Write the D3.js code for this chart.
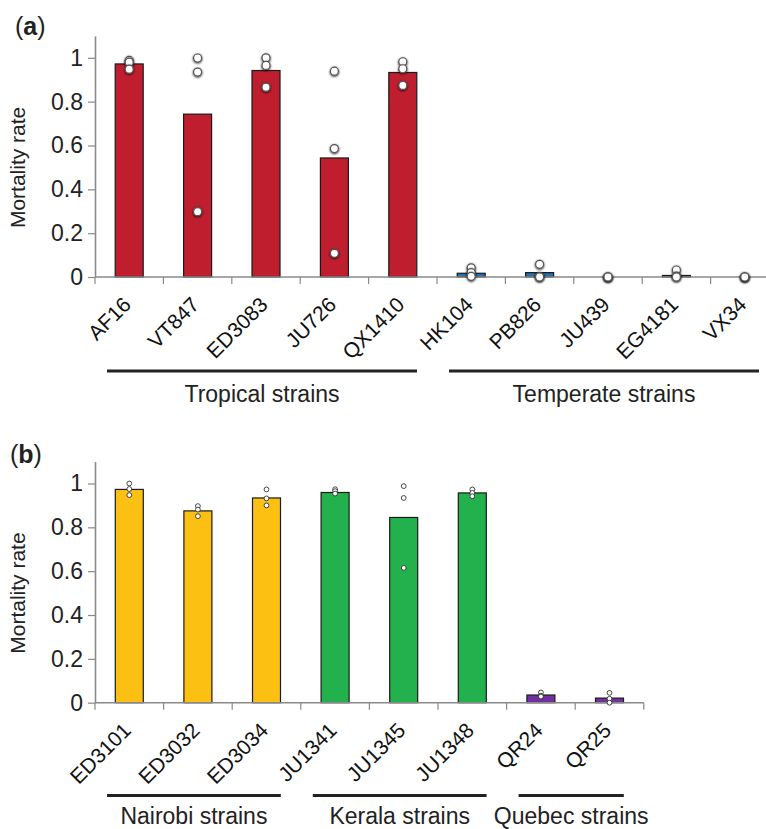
<!DOCTYPE html>
<html>
<head>
<meta charset="utf-8">
<script src="https://cdn.jsdelivr.net/npm/d3@7"></script>
<style>
  body { margin: 0; background: #fff; }
  svg { display: block; font-family: 'Liberation Sans', Arial, Helvetica, sans-serif; }
</style>
</head>
<body>
<script>
// Panel (a): tropical vs temperate strains
var strainsA = ['AF16', 'VT847', 'ED3083', 'JU726', 'QX1410', 'HK104', 'PB826', 'JU439', 'EG4181', 'VX34'];
var meansA = [0.972, 0.743, 0.942, 0.543, 0.933, 0.017, 0.020, 0, 0.007, 0];
var pointsA = [
  [0.988, 0.98, 0.948], [0.999, 0.935, 0.298], [1.0, 0.965, 0.866], [0.939, 0.586, 0.108],
  [0.982, 0.95, 0.874], [0.042, 0.02, 0.003], [0.058, 0.002, 0], [0, 0, 0], [0.032, 0.004, 0], [0, 0, 0]
];
var barGroupA = [0, 0, 0, 0, 0, 1, 1, 1, 1, 1];
var groupNamesA = ['Tropical strains', 'Temperate strains'];
var groupSpansA = [[0, 4], [5, 9]];
var groupColorsA = ['#BE1E2D', '#2470B3'];

// Panel (b): Nairobi, Kerala, Quebec strains
var strainsB = ['ED3101', 'ED3032', 'ED3034', 'JU1341', 'JU1345', 'JU1348', 'QR24', 'QR25'];
var meansB = [0.973, 0.875, 0.934, 0.959, 0.845, 0.957, 0.035, 0.021];
var pointsB = [
  [1.0, 0.975, 0.947], [0.897, 0.881, 0.851], [0.973, 0.932, 0.9], [0.974, 0.965, 0.954],
  [0.988, 0.934, 0.615], [0.973, 0.957, 0.942], [0.047, 0.032, 0.028], [0.045, 0.018, 0]
];
var barGroupB = [0, 0, 0, 1, 1, 1, 2, 2];
var groupNamesB = ['Nairobi strains', 'Kerala strains', 'Quebec strains'];
var groupSpansB = [[0, 2], [3, 5], [6, 7]];
var groupColorsB = ['#FBC012', '#22B14C', '#7030A0'];

var yTicks = [0, 0.2, 0.4, 0.6, 0.8, 1];

var width = 766;
var height = 829;

var svg = d3.select('body').append('svg')
  .attr('width', width)
  .attr('height', height);

// soft dark halo behind the points of panel (a)
var defs = svg.append('defs');
var shadow = defs.append('filter').attr('id', 'halo')
  .attr('x', '-100%').attr('y', '-100%').attr('width', '300%').attr('height', '300%');
shadow.append('feDropShadow')
  .attr('dx', 0).attr('dy', 0.8)
  .attr('stdDeviation', 1.2)
  .attr('flood-color', '#000')
  .attr('flood-opacity', 0.9);

function drawPanel(cfg) {
  var g = svg.append('g');

  var x = d3.scaleBand()
    .domain(cfg.strains)
    .range([95, 95 + cfg.step * cfg.strains.length]);

  var y = d3.scaleLinear()
    .domain([0, 1.1])
    .range([cfg.zero, cfg.zero - 1.1 * 219.2]);

  var bw = x.bandwidth();
  var barW = 28;

  // panel letter
  g.append('text')
    .attr('x', cfg.letterX)
    .attr('y', cfg.letterY)
    .attr('font-size', 25)
    .attr('fill', '#222')
    .html('(<tspan font-weight="bold">' + cfg.letter + '</tspan>)');

  // y axis
  var yAxis = g.append('g')
    .attr('transform', 'translate(95,0)')
    .call(d3.axisLeft(y).tickValues(yTicks).tickFormat(d3.format('~g')).tickSize(7).tickSizeOuter(0).tickPadding(5));
  yAxis.select('.domain').attr('stroke', '#8a8a8a').attr('stroke-width', 1.6);
  yAxis.selectAll('.tick line').attr('stroke', '#8a8a8a').attr('stroke-width', 1.2);
  yAxis.selectAll('.tick text')
    .attr('font-size', 23)
    .attr('fill', '#222')
    .attr('font-family', null);

  g.append('text')
    .attr('transform', 'translate(25,' + y(0.5) + ') rotate(-90)')
    .attr('text-anchor', 'middle')
    .attr('font-size', 21)
    .attr('fill', '#222')
    .text('Mortality rate');

  // bars
  var rows = cfg.strains.map(function (s, i) {
    return { name: s, mean: cfg.means[i], pts: cfg.points[i], color: cfg.colors[cfg.barGroup[i]] };
  });

  g.selectAll('.bar')
    .data(rows.filter(function (d) { return d.mean > 0; }))
    .enter().append('rect')
    .attr('class', 'bar')
    .attr('x', function (d) { return x(d.name) + (bw - barW) / 2; })
    .attr('width', barW)
    .attr('y', function (d) { return y(d.mean); })
    .attr('height', function (d) { return y(0) - y(d.mean); })
    .attr('fill', function (d) { return d.color; })
    .attr('stroke', '#1a1a1a')
    .attr('stroke-width', 1.2);

  // x axis line with ticks at the band boundaries
  var xr = x.range();
  g.append('line')
    .attr('x1', xr[0]).attr('x2', xr[1])
    .attr('y1', y(0)).attr('y2', y(0))
    .attr('stroke', '#8a8a8a')
    .attr('stroke-width', 1.6);

  var edges = cfg.strains.map(function (s) { return x(s); }).concat([xr[1]]);
  g.selectAll('.xtick')
    .data(edges)
    .enter().append('line')
    .attr('class', 'xtick')
    .attr('x1', function (d) { return d; }).attr('x2', function (d) { return d; })
    .attr('y1', y(0)).attr('y2', y(0) + 7)
    .attr('stroke', '#8a8a8a')
    .attr('stroke-width', 1.2);

  // points
  rows.forEach(function (d) {
    g.selectAll(null)
      .data(d.pts)
      .enter().append('circle')
      .attr('cx', x(d.name) + bw / 2)
      .attr('cy', function (v) { return y(v); })
      .attr('r', cfg.pointR)
      .attr('fill', '#fff')
      .attr('stroke', cfg.pointStroke)
      .attr('stroke-width', cfg.pointSW)
      .attr('filter', cfg.halo ? 'url(#halo)' : null);
  });

  // rotated strain names
  g.selectAll('.xlabel')
    .data(cfg.strains)
    .enter().append('text')
    .attr('class', 'xlabel')
    .attr('transform', function (d) {
      return 'translate(' + (x(d) + bw / 2 + 3) + ',' + (y(0) + 29) + ') rotate(-45)';
    })
    .attr('text-anchor', 'end')
    .attr('font-size', 21)
    .attr('fill', '#111')
    .text(function (d) { return d; });

  // group brackets
  cfg.groupSpans.forEach(function (span, i) {
    var x0 = x(cfg.strains[span[0]]) + 12;
    var x1 = x(cfg.strains[span[1]]) + bw - 20;
    g.append('line')
      .attr('x1', x0).attr('x2', x1)
      .attr('y1', cfg.lineY).attr('y2', cfg.lineY)
      .attr('stroke', '#222')
      .attr('stroke-width', 3);
    g.append('text')
      .attr('x', (x0 + x1) / 2)
      .attr('y', cfg.groupTextY)
      .attr('text-anchor', 'middle')
      .attr('font-size', 23)
      .attr('fill', '#222')
      .text(cfg.groupNames[i]);
  });
}

drawPanel({
  letter: 'a', letterX: 15, letterY: 35,
  strains: strainsA, means: meansA, points: pointsA,
  barGroup: barGroupA, colors: groupColorsA,
  groupNames: groupNamesA, groupSpans: groupSpansA,
  step: 68.4, zero: 277,
  pointR: 4, pointStroke: '#555', pointSW: 1.2, halo: true,
  lineY: 371, groupTextY: 402
});

drawPanel({
  letter: 'b', letterX: 10, letterY: 463,
  strains: strainsB, means: meansB, points: pointsB,
  barGroup: barGroupB, colors: groupColorsB,
  groupNames: groupNamesB, groupSpans: groupSpansB,
  step: 68.6, zero: 702.7,
  pointR: 2.4, pointStroke: '#333', pointSW: 0.9, halo: false,
  lineY: 795.5, groupTextY: 824
});
</script>
</body>
</html>
